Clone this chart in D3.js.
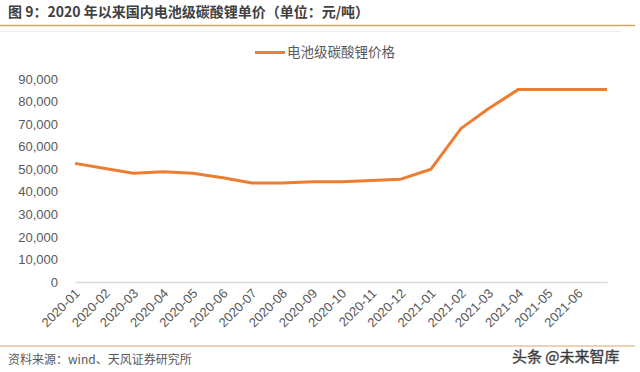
<!DOCTYPE html>
<html>
<head>
<meta charset="utf-8">
<script src="https://cdn.jsdelivr.net/npm/d3@7"></script>
<style>
  body { margin: 0; background: #fff; }
  svg { font-family: "Liberation Sans", Arial, "Noto Sans CJK SC", sans-serif; }
</style>
</head>
<body>
<div id="chart"></div>
<script>
// months of the data points (last one closes the June segment)
const months = ["2020-01","2020-02","2020-03","2020-04","2020-05","2020-06","2020-07","2020-08","2020-09","2020-10",
                "2020-11","2020-12","2021-01","2021-02","2021-03","2021-04","2021-05","2021-06","2021-07"]
// 元/吨
const prices = [52600, 50300, 48200, 48900, 48200, 46200, 43900, 43900, 44500, 44500,
                45000, 45600, 50000, 68100, 76800, 85400, 85400, 85400, 85400]
// labelled months on the x axis
const tickLabels = months.slice(0, 18)
const yTicks = [0, 10000, 20000, 30000, 40000, 50000, 60000, 70000, 80000, 90000]

const W = 640, H = 372
const margin = { top: 79, right: 33, bottom: 90, left: 75 }
const width = 607 - margin.left
const height = 282 - margin.top

const parse = d3.timeParse("%Y-%m")
const data = months.map((m, i) => ({ date: parse(m), value: prices[i] }))

const svg = d3.select("#chart").append("svg")
    .attr("width", W)
    .attr("height", H)

// header
svg.append("text")
    .attr("x", 8).attr("y", 17)
    .attr("fill", "#404040")
    .style("font-size", "14px")
    .style("font-weight", "bold")
    .style("font-family", "'Noto Sans CJK SC', sans-serif")
    .text("图 9：2020 年以来国内电池级碳酸锂单价（单位：元/吨）")
svg.append("line")
    .attr("x1", 0).attr("x2", 635).attr("y1", 25.5).attr("y2", 25.5)
    .attr("stroke", "#c9a86a").attr("stroke-width", 1.5)
svg.append("line")
    .attr("x1", 0).attr("x2", 621).attr("y1", 31.5).attr("y2", 31.5)
    .attr("stroke", "#eeeeee").attr("stroke-width", 1)

const g = svg.append("g")
    .attr("transform", "translate(" + margin.left + "," + margin.top + ")")

const xScale = d3.scaleTime()
    .domain(d3.extent(data, d => d.date))
    .range([0, width])
const yScale = d3.scaleLinear()
    .domain([0, 90000])
    .range([height, 0])

// x axis
const xAxis = d3.axisBottom(xScale)
    .tickValues(tickLabels.map(parse))
    .tickFormat(d3.timeFormat("%Y-%m"))
    .tickSize(0)
    .tickPadding(0)
const gx = g.append("g")
    .attr("transform", "translate(0," + height + ")")
    .call(xAxis)
gx.select(".domain").attr("stroke", "#d9d9d9").attr("stroke-width", 1.5)
gx.selectAll("text")
    .attr("fill", "#595959")
    .style("font-size", "13px")
    .style("text-anchor", "end")
    .attr("dy", "0.35em")
    .attr("transform", "translate(2,9) rotate(-45)")

// y axis
const yAxis = d3.axisLeft(yScale)
    .tickValues(yTicks)
    .tickFormat(d3.format(","))
    .tickSize(0)
    .tickPadding(17)
const gy = g.append("g").call(yAxis)
gy.select(".domain").remove()
gy.selectAll("text")
    .attr("fill", "#595959")
    .style("font-size", "13px")

// line
const line = d3.line()
    .x(d => xScale(d.date))
    .y(d => yScale(d.value))
g.append("path")
    .datum(data)
    .attr("fill", "none")
    .attr("stroke", "#ed7d31")
    .attr("stroke-width", 3)
    .attr("stroke-linejoin", "round")
    .attr("d", line)

// legend
const lg = svg.append("g").attr("transform", "translate(255,52.5)")
lg.append("line")
    .attr("x1", 0).attr("x2", 30)
    .attr("stroke", "#ed7d31").attr("stroke-width", 3)
lg.append("text")
    .attr("x", 32).attr("y", 0).attr("dy", "0.35em")
    .attr("fill", "#595959")
    .style("font-size", "13.5px")
    .style("font-family", "'Noto Sans CJK SC', sans-serif")
    .text("电池级碳酸锂价格")

// footer
svg.append("line")
    .attr("x1", 0).attr("x2", 635).attr("y1", 346).attr("y2", 346)
    .attr("stroke", "#d9a56a").attr("stroke-width", 1.2)
svg.append("text")
    .attr("x", 8).attr("y", 364)
    .attr("fill", "#595959")
    .style("font-size", "12px")
    .style("font-family", "'Noto Sans CJK SC', sans-serif")
    .text("资料来源：wind、天风证券研究所")
svg.append("text")
    .attr("x", 512).attr("y", 362)
    .attr("fill", "#2e2e2e")
    .attr("stroke", "#555555").attr("stroke-width", 0.4)
    .style("font-size", "15px")
    .style("font-family", "'Noto Sans CJK SC', sans-serif")
    .text("头条 @未来智库")
</script>
</body>
</html>
